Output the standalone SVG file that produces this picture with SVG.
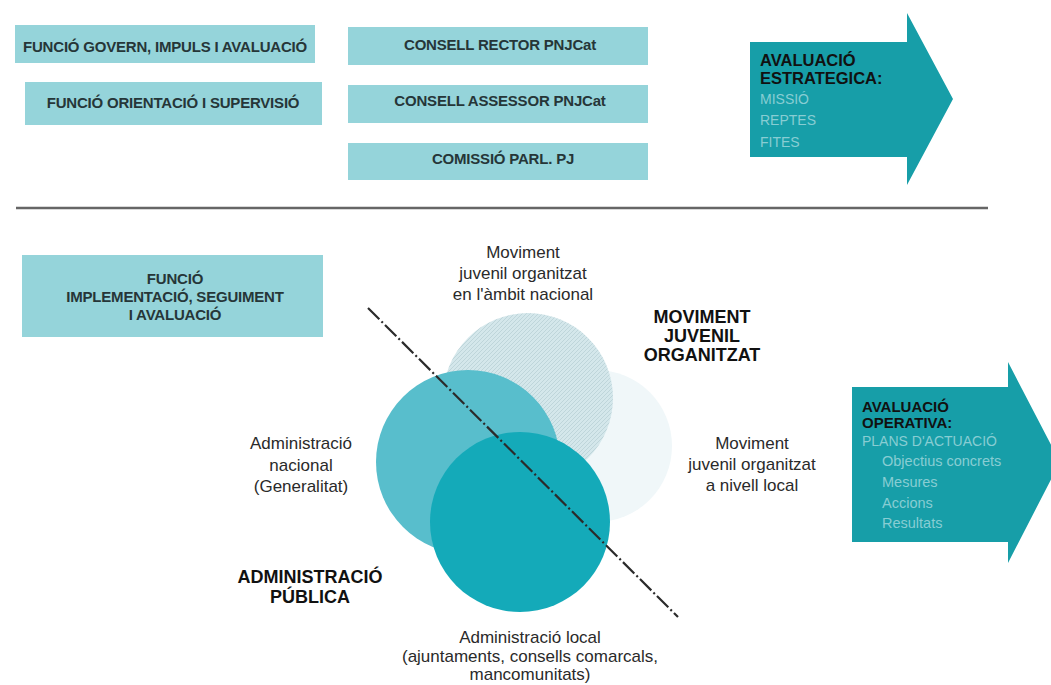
<svg xmlns="http://www.w3.org/2000/svg" width="1051" height="685" viewBox="0 0 1051 685">
<defs>
<style>
.box{fill:#95d4da;}
.bt{font-family:"Liberation Sans",Arial,sans-serif;font-weight:bold;font-size:15px;fill:#263638;text-anchor:middle;letter-spacing:-0.2px;}
.arrow{fill:#179ea8;}
.ah{font-family:"Liberation Sans",Arial,sans-serif;font-weight:bold;fill:#111;}
.al{font-family:"Liberation Sans",Arial,sans-serif;fill:#88cdd3;}
.lbl{font-family:"Liberation Sans",Arial,sans-serif;font-size:17px;fill:#2a2a2a;text-anchor:middle;}
.big{font-family:"Liberation Sans",Arial,sans-serif;font-weight:bold;font-size:18px;fill:#111;text-anchor:middle;}
</style>
<pattern id="hatch" patternUnits="userSpaceOnUse" width="4" height="4">
<rect width="4" height="4" fill="#d4e7eb"/>
<path d="M-1,1 l2,-2 M0,4 l4,-4 M3,5 l2,-2" stroke="#b9d1d6" stroke-width="0.8"/>
</pattern>
</defs>
<rect width="1051" height="685" fill="#ffffff"/>

<g id="box-govern"><rect class="box" x="15" y="25" width="300" height="38"/><text class="bt" x="165" y="52">FUNCIÓ GOVERN, IMPULS I AVALUACIÓ</text></g>
<g id="box-orientacio"><rect class="box" x="25" y="82" width="297" height="43"/><text class="bt" x="173" y="108">FUNCIÓ ORIENTACIÓ I SUPERVISIÓ</text></g>
<g id="box-rector"><rect class="box" x="348" y="27" width="300" height="38"/><text class="bt" x="500" y="50">CONSELL RECTOR PNJCat</text></g>
<g id="box-assessor"><rect class="box" x="348" y="85" width="300" height="38"/><text class="bt" x="500" y="106">CONSELL ASSESSOR PNJCat</text></g>
<g id="box-comissio"><rect class="box" x="348" y="143" width="300" height="37"/><text class="bt" x="503" y="164">COMISSIÓ PARL. PJ</text></g>

<g id="arrow-estrategica">
<polygon class="arrow" points="750,42 907,42 907,13 953,99 907,185 907,157 750,157"/>
<text class="ah" font-size="16.5" x="760" y="66">AVALUACIÓ</text>
<text class="ah" font-size="16.5" x="760" y="84">ESTRATEGICA:</text>
<text class="al" font-size="14" x="760" y="104">MISSIÓ</text>
<text class="al" font-size="14" x="760" y="125">REPTES</text>
<text class="al" font-size="14" x="760" y="147">FITES</text>
</g>

<line x1="16" y1="208" x2="988" y2="208" stroke="#666" stroke-width="2.5"/>

<g id="box-implementacio"><rect class="box" x="22" y="255" width="301" height="82"/>
<text class="bt" x="175" y="284">FUNCIÓ</text>
<text class="bt" x="175" y="302">IMPLEMENTACIÓ, SEGUIMENT</text>
<text class="bt" x="175" y="320">I AVALUACIÓ</text></g>

<g id="circle-local-moviment"><circle cx="596" cy="446" r="76" fill="#f0f7f9"/></g>
<g id="circle-nacional-moviment"><circle cx="528" cy="398" r="85" fill="url(#hatch)"/></g>
<g id="circle-nacional-admin"><circle cx="468" cy="462" r="92" fill="#58becc"/></g>
<g id="circle-local-admin"><circle cx="520" cy="522" r="90" fill="#14aab9"/></g>

<g id="connectors">
<line x1="368" y1="308" x2="678" y2="617" stroke="#2b2b2b" stroke-width="2.2" stroke-dasharray="16 3 2 3"/>
</g>

<g id="labels">
<text class="lbl" x="523" y="258">Moviment</text>
<text class="lbl" x="523" y="279">juvenil organitzat</text>
<text class="lbl" x="523" y="300">en l'àmbit nacional</text>
<text class="big" x="702" y="323">MOVIMENT</text>
<text class="big" x="702" y="342">JUVENIL</text>
<text class="big" x="702" y="361">ORGANITZAT</text>
<text class="lbl" x="752" y="449">Moviment</text>
<text class="lbl" x="752" y="470">juvenil organitzat</text>
<text class="lbl" x="752" y="491">a nivell local</text>
<text class="lbl" x="301" y="449">Administració</text>
<text class="lbl" x="301" y="471">nacional</text>
<text class="lbl" x="301" y="492">(Generalitat)</text>
<text class="big" x="310" y="583">ADMINISTRACIÓ</text>
<text class="big" x="310" y="603">PÚBLICA</text>
<text class="lbl" x="530" y="643">Administració local</text>
<text class="lbl" x="530" y="662">(ajuntaments, consells comarcals,</text>
<text class="lbl" x="530" y="680">mancomunitats)</text>
</g>

<g id="arrow-operativa">
<polygon class="arrow" points="852,387 1008,387 1008,362 1060,462 1008,563 1008,542 852,542"/>
<text class="ah" font-size="15" x="862" y="412">AVALUACIÓ</text>
<text class="ah" font-size="15" x="862" y="428">OPERATIVA:</text>
<text class="al" font-size="14" x="862" y="446">PLANS D'ACTUACIÓ</text>
<text class="al" font-size="14.5" x="882" y="466">Objectius concrets</text>
<text class="al" font-size="14.5" x="882" y="487">Mesures</text>
<text class="al" font-size="14.5" x="882" y="508">Accions</text>
<text class="al" font-size="14.5" x="882" y="528">Resultats</text>
</g>
</svg>
